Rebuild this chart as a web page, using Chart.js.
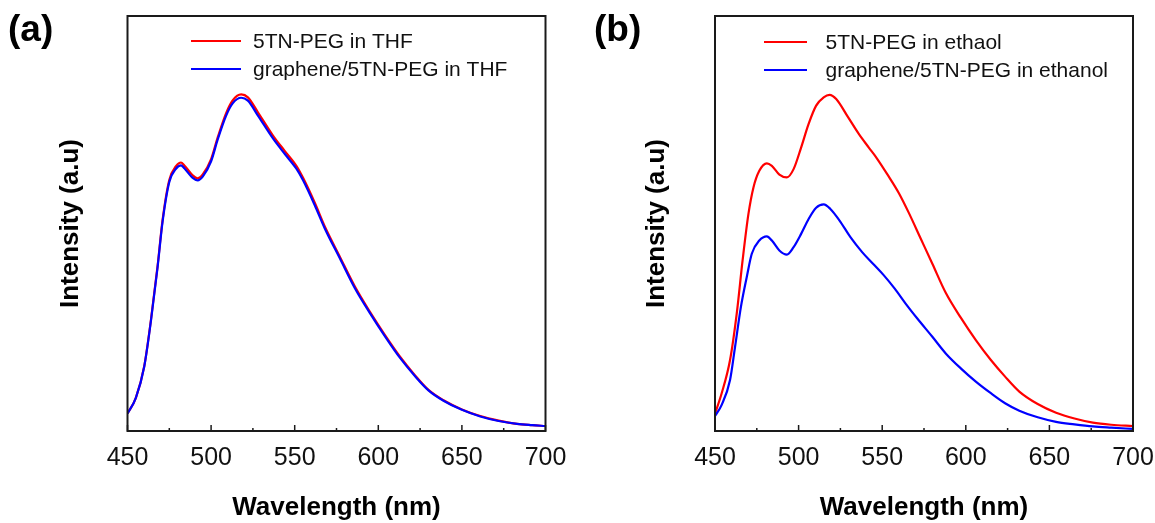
<!DOCTYPE html>
<html><head><meta charset="utf-8">
<script src="https://cdn.jsdelivr.net/npm/chart.js@4.4.1/dist/chart.umd.min.js"></script>
<style>
html,body{margin:0;padding:0;background:#fff;width:1155px;height:523px;overflow:hidden;position:relative;}
.panel{position:absolute;top:0;height:523px;}
#wa{left:0;width:577px;} #wb{left:577px;width:578px;}
.lab{position:absolute;font-family:"Liberation Sans",Arial,sans-serif;font-weight:bold;font-size:37px;color:#000;line-height:37px;}
</style></head><body>
<div class="panel" id="wa"><canvas id="ca" width="577" height="523"></canvas></div>
<div class="panel" id="wb"><canvas id="cb" width="578" height="523"></canvas></div>
<div class="lab" style="left:8px;top:10px">(a)</div>
<div class="lab" style="left:594px;top:10px">(b)</div>
<script>
// ---- data ----
const xMajorTicks = [450, 500, 550, 600, 650, 700];
const xMinorTicks = [475, 525, 575, 625, 675];

const wavelengthA = [450,455,460,464,468,471,475,479,482,484,489,492,495,500,504,509,513,518,522,528,537,544,551,555,562,568,577,586,595,604,613,622,630,639,650,661,672,683,692,700];
const thfPristine = [4.2,8.0,15.6,26.7,39.8,50.9,60.5,63.8,64.7,64.0,61.6,60.9,61.8,65.5,70.8,76.6,79.7,81.1,80.4,76.8,71.2,67.5,63.9,61.0,55.0,49.3,42.0,34.8,28.7,23.1,17.9,13.4,9.9,7.4,5.2,3.6,2.5,1.7,1.4,1.2];
const thfGraphene = [4.2,8.0,15.5,26.5,39.5,50.5,60.0,63.2,64.0,63.3,61.0,60.4,61.3,65.0,70.3,76.0,79.0,80.3,79.6,76.0,70.5,66.8,63.2,60.4,54.4,48.8,41.6,34.4,28.4,22.8,17.6,13.2,9.8,7.3,5.1,3.5,2.4,1.7,1.4,1.2];

const wavelengthBRed = [450,454,459,463,466.5,470,473,476.5,481,484,488.5,493,497,501.5,506,510.5,515,518.5,522.5,529,536,542,547,553,560,566,573,580,588,597,606,615,623.5,632,643,654,665,676,687,700];
const ethPristine = [4.2,9.1,17.1,28.3,41.1,52.3,58.7,62.7,64.5,63.9,61.8,61.1,63.1,68.3,74.0,78.4,80.4,81.0,80.0,76.0,71.6,68.3,65.6,61.9,57.3,52.5,46.4,40.3,33.3,27.3,21.9,17.1,13.1,9.5,6.5,4.4,3.0,2.0,1.5,1.2];
const wavelengthBBlue = [450,454,459,462,465.5,469,472,476.5,481,484,488.5,493,497,501.5,506,510.5,515,519,524.5,531,538,544.5,551,557.5,564,571,580,588,597,606,615,623.5,632,643,654,665,676,687,700];
const ethGraphene = [3.6,6.3,12.3,20.3,29.9,37.1,42.7,45.9,46.9,45.9,43.5,42.5,44.3,47.5,51.1,53.8,54.6,53.5,50.7,46.7,43.1,40.3,37.5,34.3,30.7,27.1,22.7,18.7,15.1,11.9,9.1,6.7,4.9,3.3,2.2,1.6,1.1,0.8,0.5];

const labelsA = ['5TN-PEG in THF', 'graphene/5TN-PEG in THF'];
const labelsB = ['5TN-PEG in ethaol', 'graphene/5TN-PEG in ethanol'];

// ---- drawing ----
const FONT = '"Liberation Sans", Arial, sans-serif';
const pts = (xs, ys) => xs.map((x, i) => ({x: x, y: ys[i]}));

const framePlugin = {
  id: 'frame',
  afterDatasetsDraw(chart, args, o) {
    const ctx = chart.ctx;
    const {left, right, top, bottom} = chart.chartArea;
    const xs = chart.scales.x;
    ctx.save();
    ctx.strokeStyle = '#1a1a1a';
    ctx.lineWidth = 1.5;
    xMajorTicks.forEach(v => {
      const p = xs.getPixelForValue(v);
      ctx.beginPath(); ctx.moveTo(p, bottom); ctx.lineTo(p, bottom - 6); ctx.stroke();
    });
    xMinorTicks.forEach(v => {
      const p = xs.getPixelForValue(v);
      ctx.beginPath(); ctx.moveTo(p, bottom); ctx.lineTo(p, bottom - 3); ctx.stroke();
    });
    ctx.lineWidth = 2;
    ctx.strokeRect(left, top, right - left, bottom - top);
    // legend
    ctx.font = o.fontSize + 'px ' + FONT;
    ctx.textBaseline = 'middle';
    ctx.textAlign = 'left';
    chart.data.datasets.forEach((ds, i) => {
      const y = o.rows[i];
      ctx.strokeStyle = ds.borderColor;
      ctx.lineWidth = 2.2;
      ctx.beginPath(); ctx.moveTo(o.x0, y); ctx.lineTo(o.x1, y); ctx.stroke();
      ctx.fillStyle = '#111';
      ctx.fillText(ds.label, o.tx, y + 1);
    });
    ctx.restore();
  }
};

function makeChart(id, datasets, opts) {
  return new Chart(document.getElementById(id), {
    type: 'line',
    data: { datasets: datasets },
    plugins: [framePlugin],
    options: {
      responsive: false,
      animation: false,
      devicePixelRatio: 1,
      layout: { padding: { top: 16, right: opts.padRight, left: 0, bottom: 0 } },
      elements: { point: { radius: 0 }, line: { borderWidth: 2.2, cubicInterpolationMode: 'monotone' } },
      plugins: {
        legend: { display: false },
        tooltip: { enabled: false },
        frame: opts.legend
      },
      scales: {
        x: {
          type: 'linear', min: 450, max: 700,
          afterBuildTicks(s) { s.ticks = xMajorTicks.map(v => ({value: v})); },
          ticks: { font: { family: FONT, size: 25 }, color: '#111', padding: 12, maxRotation: 0, autoSkip: false },
          grid: { display: false, drawTicks: false },
          border: { display: false },
          title: { display: true, text: 'Wavelength (nm)', color: '#000',
                   font: { family: FONT, size: 26, weight: 'bold' }, padding: { top: 0, bottom: 0 } },
          afterFit(s) { s.height = 92; s.paddingLeft = 0; s.paddingRight = 0; }
        },
        y: {
          min: 0, max: 100,
          ticks: { display: false },
          grid: { display: false, drawTicks: false },
          border: { display: false },
          title: { display: true, text: 'Intensity (a.u)', color: '#000',
                   font: { family: FONT, size: 26, weight: 'bold' }, padding: { top: opts.yTitlePad, bottom: 0 } },
          afterFit(s) { s.width = opts.yWidth; s.paddingTop = 0; s.paddingBottom = 0; }
        }
      }
    }
  });
}

makeChart('ca', [
  { label: labelsA[0], data: pts(wavelengthA, thfPristine), borderColor: '#ff0000', order: 1 },
  { label: labelsA[1], data: pts(wavelengthA, thfGraphene), borderColor: '#0000ff', order: 0 }
], { padRight: 31.5, yWidth: 127.5, yTitlePad: 55,
     legend: { x0: 191, x1: 241, tx: 253, rows: [41, 69], fontSize: 21 } });

makeChart('cb', [
  { label: labelsB[0], data: pts(wavelengthBRed, ethPristine), borderColor: '#ff0000', order: 1 },
  { label: labelsB[1], data: pts(wavelengthBBlue, ethGraphene), borderColor: '#0000ff', order: 0 }
], { padRight: 22, yWidth: 138, yTitlePad: 64.5,
     legend: { x0: 187, x1: 230, tx: 248.5, rows: [42, 70], fontSize: 21 } });
</script>
</body></html>
